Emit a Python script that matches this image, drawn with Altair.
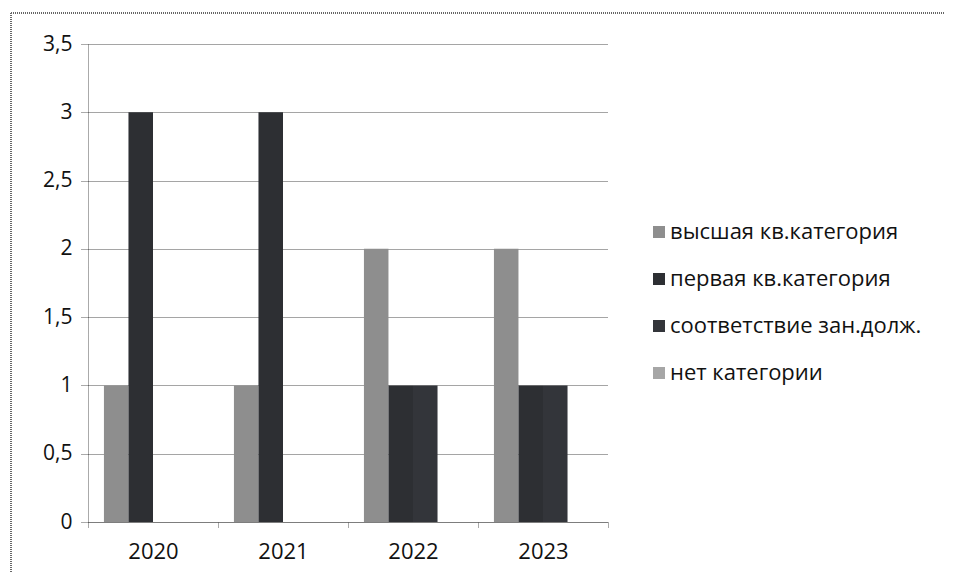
import altair as alt
import pandas as pd

years = ["2020", "2021", "2022", "2023"]
categories = ["высшая кв.категория", "первая кв.категория", "соответствие зан.долж.", "нет категории"]
vysshaya = [1, 1, 2, 2]
pervaya = [3, 3, 1, 1]
sootv = [0, 0, 1, 1]
net = [0, 0, 0, 0]
colors = ["#8e8e8e", "#2d2f33", "#33353a", "#a6a6a6"]

series = [vysshaya, pervaya, sootv, net]
rows = []
for cat, vals in zip(categories, series):
    for y, v in zip(years, vals):
        rows.append({"year": y, "cat": cat, "val": v})
df = pd.DataFrame(rows)

FONT = "Open Sans"
TXT = "#111111"

bars = alt.Chart(df).mark_bar().encode(
    x=alt.X("year:N", sort=years,
            scale=alt.Scale(paddingInner=0, paddingOuter=0),
            axis=alt.Axis(title=None, labelAngle=0, tickBand="extent", grid=False,
                          labelFontSize=22, labelFont=FONT, labelColor=TXT,
                          labelPadding=13, tickSize=6, tickColor="#555555",
                          domainColor="#555555", domainDash=[1, 1], tickDash=[1, 1])),
    xOffset=alt.XOffset("cat:N", sort=categories,
                        scale=alt.Scale(paddingOuter=0.65, paddingInner=0)),
    y=alt.Y("val:Q", scale=alt.Scale(domain=[0, 3.5], nice=False),
            axis=alt.Axis(title=None, values=[0, 0.5, 1, 1.5, 2, 2.5, 3, 3.5],
                          labelExpr="replace(toString(datum.value), '.', ',')",
                          labelFontSize=21, labelFont=FONT, labelColor=TXT,
                          labelPadding=8, tickSize=8, tickColor="#555555",
                          domainColor="#555555", domainDash=[1, 1], tickDash=[1, 1],
                          gridColor="#4a4a4a", gridDash=[1, 1], gridWidth=1)),
    color=alt.Color("cat:N", sort=categories,
                    scale=alt.Scale(domain=categories, range=colors),
                    legend=alt.Legend(title=None, orient="none", legendX=560, legendY=177,
                                      symbolType="square", symbolSize=144,
                                      symbolStrokeWidth=0, labelFontSize=22,
                                      labelFont=FONT, labelColor=TXT, labelLimit=0,
                                      rowPadding=25, labelOffset=0)),
)

top_border = alt.Chart(df).mark_rule(color="#666666", strokeDash=[1, 1], clip=False).encode(
    x=alt.value(-77), x2=alt.value(860), y=alt.value(-31)
)
left_border = alt.Chart(df).mark_rule(color="#666666", strokeDash=[1, 1], clip=False).encode(
    x=alt.value(-77), y=alt.value(-31), y2=alt.value(530)
)

chart = alt.layer(bars, top_border, left_border).properties(
    width=520, height=478,
    autosize=alt.AutoSizeParams(type="none"),
    padding={"left": 80, "top": 36, "right": 337, "bottom": 50},
    background="white",
).configure_view(stroke=None)

chart.save("out.html", embed_options={"renderer": "svg", "actions": False})
